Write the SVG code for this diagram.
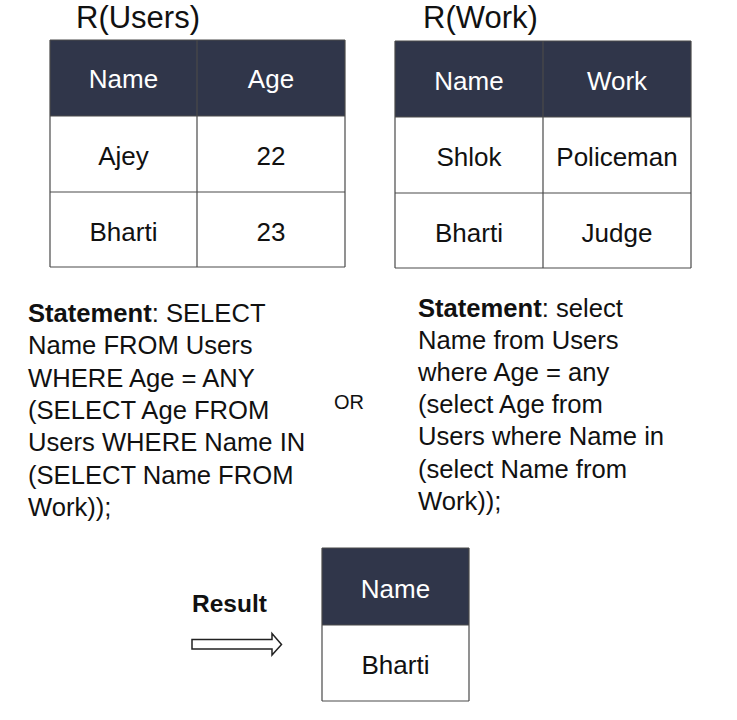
<svg xmlns="http://www.w3.org/2000/svg" width="737" height="720" viewBox="0 0 737 720">
<style>
text{font-family:"Liberation Sans",Arial,sans-serif;fill:#111}
.hdr{fill:#30364a}
.cell{fill:#fff}
.ln{stroke:#4a4a4a;stroke-width:1.2;fill:none}
.ht{fill:#fff;font-size:26px;text-anchor:middle}
.ct{font-size:26px;text-anchor:middle}
.title{font-size:31px}
.st{font-size:25.6px}
.b{font-weight:bold}
</style>
<rect width="737" height="720" fill="#fff"/>

<g id="users-table">
<text class="title" x="76" y="28">R(Users)</text>
<rect class="hdr" x="50" y="40" width="295" height="76"/>
<path class="ln" d="M50,40H345M50,116H345M50,192H345M50,267H345M50,40V267M197,40V267M345,40V267"/>
<text class="ht" x="123.5" y="88">Name</text>
<text class="ht" x="271" y="88">Age</text>
<text class="ct" x="123.5" y="165">Ajey</text>
<text class="ct" x="271" y="165">22</text>
<text class="ct" x="123.5" y="241">Bharti</text>
<text class="ct" x="271" y="241">23</text>
</g>

<g id="work-table">
<text class="title" x="423" y="28">R(Work)</text>
<rect class="hdr" x="395" y="41" width="296" height="76"/>
<path class="ln" d="M395,41H691M395,117H691M395,193H691M395,268H691M395,41V268M543,41V268M691,41V268"/>
<text class="ht" x="469" y="90">Name</text>
<text class="ht" x="617" y="90">Work</text>
<text class="ct" x="469" y="166">Shlok</text>
<text class="ct" x="617" y="166">Policeman</text>
<text class="ct" x="469" y="242">Bharti</text>
<text class="ct" x="617" y="242">Judge</text>
</g>

<g id="statement-upper">
<text class="st" x="28" y="322"><tspan class="b">Statement</tspan>: SELECT</text>
<text class="st" x="28" y="354.3">Name FROM Users</text>
<text class="st" x="28" y="386.6">WHERE Age = ANY</text>
<text class="st" x="28" y="418.9">(SELECT Age FROM</text>
<text class="st" x="28" y="451.2">Users WHERE Name IN</text>
<text class="st" x="28" y="483.5">(SELECT Name FROM</text>
<text class="st" x="28" y="515.8">Work));</text>
</g>

<g id="or-label">
<text x="334" y="409" style="font-size:20px">OR</text>
</g>

<g id="statement-lower">
<text class="st" x="418" y="316.5"><tspan class="b">Statement</tspan>: select</text>
<text class="st" x="418" y="348.7">Name from Users</text>
<text class="st" x="418" y="380.9">where Age = any</text>
<text class="st" x="418" y="413.1">(select Age from</text>
<text class="st" x="418" y="445.3">Users where Name in</text>
<text class="st" x="418" y="477.5">(select Name from</text>
<text class="st" x="418" y="509.7">Work));</text>
</g>

<g id="result-label">
<text class="st b" x="192" y="612" style="font-size:24.5px">Result</text>
</g>

<g id="connectors">
<path d="M192,639.5H272V633.5L281.5,644.5L272,655V649H192Z" fill="#fff" stroke="#222" stroke-width="1.5" stroke-linejoin="miter"/>
</g>

<g id="result-table">
<rect class="hdr" x="322" y="548" width="147" height="77"/>
<path class="ln" d="M322,548H469M322,625H469M322,701H469M322,548V701M469,548V701"/>
<text class="ht" x="395.5" y="598">Name</text>
<text class="ct" x="395.5" y="674">Bharti</text>
</g>
</svg>
